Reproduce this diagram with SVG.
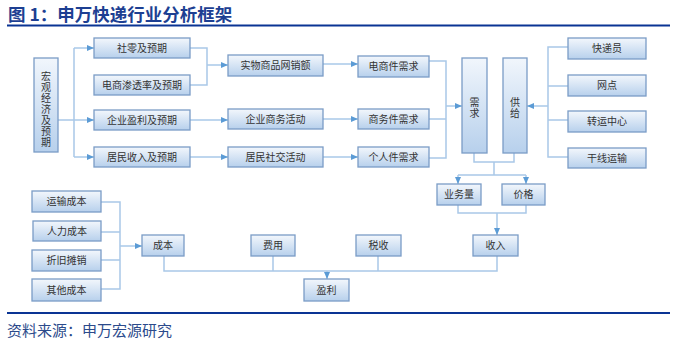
<svg xmlns="http://www.w3.org/2000/svg" width="677" height="342" viewBox="0 0 677 342">
<defs>
<linearGradient id="g" x1="0" y1="0" x2="0" y2="1">
<stop offset="0" stop-color="#f3f7fc"/>
<stop offset="1" stop-color="#b7d0ec"/>
</linearGradient>
<linearGradient id="gv" x1="0" y1="0" x2="0" y2="1">
<stop offset="0" stop-color="#f1f6fc"/>
<stop offset="1" stop-color="#b7d0ec"/>
</linearGradient>
<marker id="a" markerUnits="userSpaceOnUse" markerWidth="7" markerHeight="7" viewBox="0 0 7 7" refX="7" refY="3.5" orient="auto">
<path d="M0,0.5 L7,3.5 L0,6.5 Z" fill="#5b9bd5"/>
</marker>
<style>
.b{fill:url(#g);stroke:#7a9cc6;stroke-width:1.3}
.bv{fill:url(#gv);stroke:#7a9cc6;stroke-width:1.3}
.t{font-family:"Noto Sans CJK SC","Noto Sans",sans-serif;font-size:10px;fill:#333;text-anchor:middle}
.v{writing-mode:vertical-rl;letter-spacing:1px}
.c path{fill:none;stroke:#a9c8e8;stroke-width:1.5}
.ar{marker-end:url(#a)}
</style>
</defs>
<rect width="677" height="342" fill="#fff"/>
<text x="8" y="21" font-family="Noto Sans CJK SC,sans-serif" font-size="17.5" font-weight="bold" fill="#1d3f92">图 1：申万快递行业分析框架</text>
<rect x="7" y="24.5" width="663" height="2" fill="#0a3494"/>
<rect x="7" y="312" width="663" height="2" fill="#0a3494"/>
<text x="7" y="336" font-family="Noto Sans CJK SC,sans-serif" font-size="15" fill="#2b4a8b">资料来源：申万宏源研究</text>

<g class="c" id="connectors">
<path d="M58,120 H74 M74,48 V157"/>
<path class="ar" d="M74,48 H94"/>
<path class="ar" d="M74,120 H94"/>
<path class="ar" d="M74,157 H94"/>
<path d="M190,48 H207 V85 H190"/>
<path class="ar" d="M207,65 H228"/>
<path class="ar" d="M190,120 H228"/>
<path class="ar" d="M190,157 H228"/>
<path class="ar" d="M323,64 H358"/>
<path class="ar" d="M323,119 H358"/>
<path class="ar" d="M323,157 H358"/>
<path d="M429,61 H446 V158 H429 M429,119 H446"/>
<path class="ar" d="M446,106 H462"/>
<path d="M568,47 H548 V157 H568 M568,86 H548 M568,120 H548"/>
<path class="ar" d="M548,106 H527"/>
<path d="M474,153 V162 H514 V153 M494,162 V175 M458,175 H526"/>
<path class="ar" d="M458,175 V184"/>
<path class="ar" d="M526,175 V184"/>
<path d="M458,205 V213 H526 V205"/>
<path class="ar" d="M497,213 V235"/>
<path d="M164,256 V271 H497 V256 M273,256 V271 M378,256 V271"/>
<path class="ar" d="M327,271 V279"/>
<path d="M101,202 H120 V289 H101 M101,232 H120 M101,260 H120"/>
<path class="ar" d="M120,246 H142"/>
</g>

<g id="n-macro"><rect class="bv" x="34" y="58" width="24" height="94"/>
<text class="t v" x="46" y="110">宏观经济及预期</text></g>
<g id="n-shelin"><rect class="b" x="94" y="38" width="96" height="20"/><text class="t" x="142" y="51.5">社零及预期</text></g>
<g id="n-dianshang"><rect class="b" x="94" y="75" width="96" height="20"/><text class="t" x="142" y="88.5">电商渗透率及预期</text></g>
<g id="n-qiye"><rect class="b" x="94" y="110" width="96" height="20"/><text class="t" x="142" y="123.5">企业盈利及预期</text></g>
<g id="n-jumin"><rect class="b" x="94" y="147" width="96" height="20"/><text class="t" x="142" y="160.5">居民收入及预期</text></g>
<g id="n-shiwu"><rect class="b" x="228" y="55" width="95" height="21"/><text class="t" x="275.5" y="69">实物商品网销额</text></g>
<g id="n-shangwu"><rect class="b" x="228" y="109" width="95" height="20"/><text class="t" x="275.5" y="122.5">企业商务活动</text></g>
<g id="n-shejiao"><rect class="b" x="228" y="147" width="95" height="20"/><text class="t" x="275.5" y="160.5">居民社交活动</text></g>
<g id="n-dsj"><rect class="b" x="358" y="56" width="71" height="21"/><text class="t" x="393.5" y="70">电商件需求</text></g>
<g id="n-swj"><rect class="b" x="358" y="109" width="71" height="20"/><text class="t" x="393.5" y="122.5">商务件需求</text></g>
<g id="n-grj"><rect class="b" x="358" y="147" width="71" height="20"/><text class="t" x="393.5" y="160.5">个人件需求</text></g>
<g id="n-xuqiu"><rect class="bv" x="462" y="58" width="25" height="95"/><text class="t v" x="474.5" y="108">需求</text></g>
<g id="n-gongji"><rect class="bv" x="503" y="58" width="24" height="95"/><text class="t v" x="515" y="108">供给</text></g>
<g id="n-kdy"><rect class="b" x="568" y="38" width="78" height="21"/><text class="t" x="607" y="52">快递员</text></g>
<g id="n-wd"><rect class="b" x="568" y="75" width="78" height="21"/><text class="t" x="607" y="89">网点</text></g>
<g id="n-zy"><rect class="b" x="568" y="111" width="78" height="21"/><text class="t" x="607" y="125">转运中心</text></g>
<g id="n-gx"><rect class="b" x="568" y="148" width="78" height="20"/><text class="t" x="607" y="161.5">干线运输</text></g>
<g id="n-ywl"><rect class="b" x="437" y="184" width="44" height="21"/><text class="t" x="459" y="198">业务量</text></g>
<g id="n-jg"><rect class="b" x="502" y="184" width="43" height="21"/><text class="t" x="523.5" y="198">价格</text></g>
<g id="n-sr"><rect class="b" x="473" y="235" width="45" height="21"/><text class="t" x="495.5" y="249">收入</text></g>
<g id="n-ss"><rect class="b" x="356" y="235" width="45" height="21"/><text class="t" x="378.5" y="249">税收</text></g>
<g id="n-fy"><rect class="b" x="251" y="235" width="44" height="21"/><text class="t" x="273" y="249">费用</text></g>
<g id="n-cb"><rect class="b" x="142" y="235" width="42" height="21"/><text class="t" x="163" y="249">成本</text></g>
<g id="n-yscb"><rect class="b" x="32" y="191" width="69" height="21"/><text class="t" x="66.5" y="205">运输成本</text></g>
<g id="n-rlcb"><rect class="b" x="33" y="221" width="68" height="20"/><text class="t" x="67" y="234.5">人力成本</text></g>
<g id="n-zjtx"><rect class="b" x="32" y="250" width="69" height="21"/><text class="t" x="66.5" y="264">折旧摊销</text></g>
<g id="n-qtcb"><rect class="b" x="32" y="279" width="69" height="22"/><text class="t" x="66.5" y="293.5">其他成本</text></g>
<g id="n-yl"><rect class="b" x="304" y="279" width="45" height="22"/><text class="t" x="326.5" y="293.5">盈利</text></g>
</svg>
